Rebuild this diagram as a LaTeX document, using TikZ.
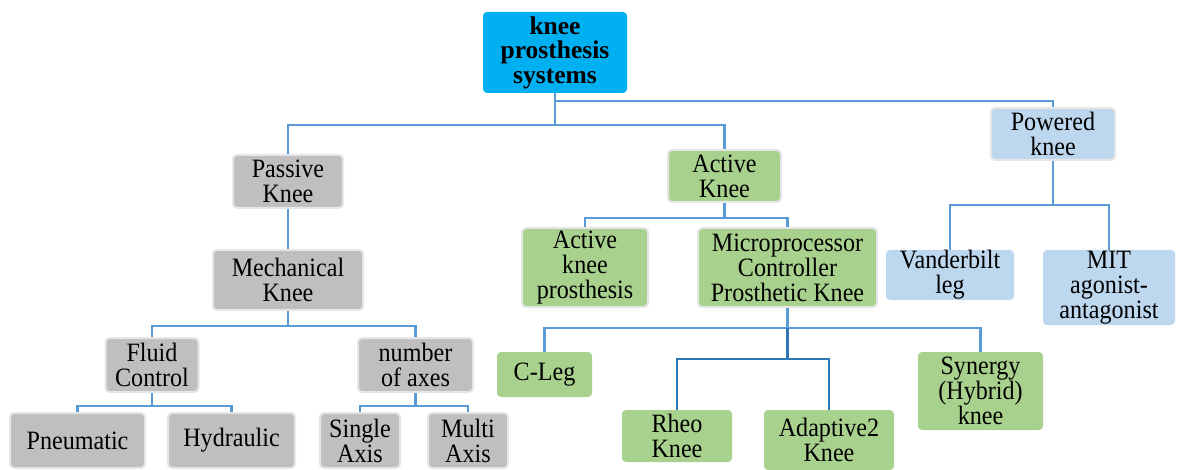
\documentclass[tikz,border=0pt]{standalone}
\usepackage{fontspec}
\setmainfont{Liberation Serif}[FakeStretch=0.91]
\newfontfamily\rootfont{Liberation Serif}
\definecolor{rootcyan}{HTML}{00B0F0}
\definecolor{boxgray}{HTML}{BFBFBF}
\definecolor{boxgreen}{HTML}{A9D18E}
\definecolor{boxblue}{HTML}{BDD7EE}
\definecolor{edgegray}{HTML}{E6E6E6}
\definecolor{connlight}{HTML}{5B9BD5}
\definecolor{conndark}{HTML}{2E75B6}
\begin{document}
\begin{tikzpicture}[x=1pt,y=-1pt,
  box/.style={rounded corners=4pt, inner sep=0pt, align=center, text=black,
    font=\fontsize{26.5}{25}\selectfont},
  rootbox/.style={box, fill=rootcyan, font=\rootfont\bfseries\fontsize{25.5}{24.5}\selectfont},
  graybox/.style={box, fill=boxgray, draw=edgegray, line width=2pt},
  greenbox/.style={box, fill=boxgreen, draw=edgegray, line width=2pt},
  greenplain/.style={box, fill=boxgreen},
  bluebox/.style={box, fill=boxblue, draw=edgegray, line width=2pt},
  blueplain/.style={box, fill=boxblue},
  conn/.style={draw=connlight, line width=2.2pt},
  conndk/.style={draw=conndark, line width=2.6pt}]
\useasboundingbox (0,0) rectangle (1180,470);

\node[rootbox, minimum width=144pt, minimum height=81pt] (root) at (555,52.5) {knee\\prosthesis\\systems};

\node[graybox, minimum width=110pt, minimum height=53pt] (pas) at (288,181.5) {Passive\\Knee};
\node[graybox, minimum width=150pt, minimum height=60pt] (mech) at (288,280) {Mechanical\\Knee};
\node[graybox, minimum width=93pt, minimum height=54pt] (fluid) at (152,365) {Fluid\\Control};
\node[graybox, minimum width=115pt, minimum height=54pt] (axes) at (415.5,365) {number\\of axes};
\node[graybox, minimum width=135pt, minimum height=55pt] (pneu) at (77.5,440.5) {Pneumatic};
\node[graybox, minimum width=127pt, minimum height=55pt] (hyd) at (231.5,440.5) {Hydraulic};
\node[graybox, minimum width=80pt, minimum height=55pt] (single) at (360,440.5) {Single\\Axis};
\node[graybox, minimum width=80pt, minimum height=55pt] (multi) at (468,440.5) {Multi\\Axis};

\node[greenbox, minimum width=113pt, minimum height=52pt] (act) at (724.5,176) {Active\\Knee};
\node[greenbox, minimum width=126pt, minimum height=79pt] (akp) at (585,267.5) {Active\\knee\\prosthesis};
\node[greenbox, minimum width=179pt, minimum height=79pt] (micro) at (787.5,267.5) {Microprocessor\\Controller\\Prosthetic Knee};
\node[greenplain, minimum width=95pt, minimum height=45pt] (cleg) at (544.5,374.5) {C-Leg};
\node[greenplain, minimum width=110pt, minimum height=52pt] (rheo) at (677,436) {Rheo\\Knee};
\node[greenplain, minimum width=130pt, minimum height=60pt] (adapt) at (829,440) {Adaptive2\\Knee};
\node[greenplain, minimum width=125pt, minimum height=78pt] (syn) at (980.5,391) {Synergy\\(Hybrid)\\knee};

\node[bluebox, minimum width=124pt, minimum height=52pt] (pow) at (1053,134) {Powered\\knee};
\node[blueplain, minimum width=128pt, minimum height=50pt] (vand) at (950,275) {Vanderbilt\\leg};
\node[blueplain, minimum width=132pt, minimum height=75pt] (mit) at (1109,287.5) {MIT\\agonist-\\antagonist};

% connectors
\draw[conn] (root.south) -- ++(0,8) -| (pow.north);
\draw[conn] (root.south) -- ++(0,32) -| (pas.north);
\draw[conn] (root.south) -- ++(0,32) -| (act.north);
\draw[conn] (pas.south) -- (mech.north);
\draw[conn] (mech.south) -- ++(0,15) -| (fluid.north);
\draw[conn] (mech.south) -- ++(0,15) -| (axes.north);
\draw[conn] (fluid.south) -- ++(0,13) -| (pneu.north);
\draw[conn] (fluid.south) -- ++(0,13) -| (hyd.north);
\draw[conn] (axes.south) -- ++(0,13) -| (single.north);
\draw[conn] (axes.south) -- ++(0,13) -| (multi.north);
\draw[conn] (act.south) -- ++(0,15) -| (akp.north);
\draw[conn] (act.south) -- ++(0,15) -| (micro.north);
\draw[conn] (micro.south) -- ++(0,20) -| (cleg.north);
\draw[conn] (micro.south) -- ++(0,20) -| (syn.north);
\draw[conndk] ([yshift=-20pt]micro.south) -- ++(0,31) -| (rheo.north);
\draw[conndk] ([yshift=-20pt]micro.south) -- ++(0,31) -| (adapt.north);
\draw[conn] (pow.south) -- ++(0,44) -| (vand.north);
\draw[conn] (pow.south) -- ++(0,44) -| (mit.north);
\end{tikzpicture}
\end{document}
